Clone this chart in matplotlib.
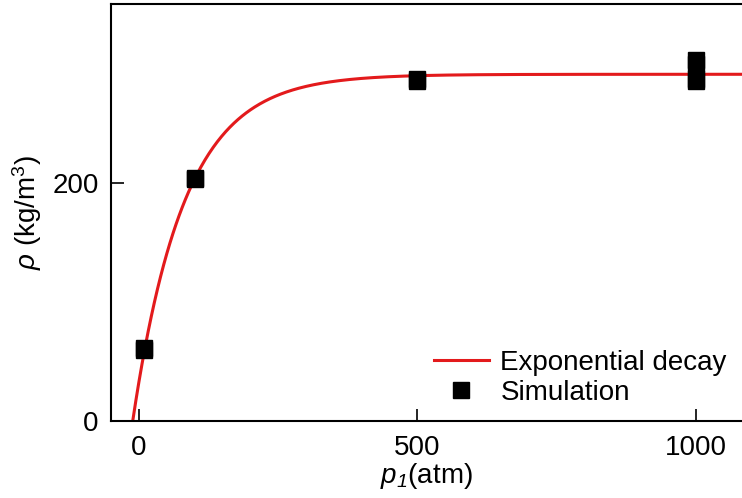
import numpy as np
import matplotlib
matplotlib.use("Agg")
import matplotlib.pyplot as plt

plt.rcParams['font.family'] = ['Liberation Sans', 'DejaVu Sans']
plt.rcParams['mathtext.fontset'] = 'custom'
plt.rcParams['mathtext.rm'] = 'Liberation Sans'
plt.rcParams['mathtext.it'] = 'Liberation Sans:italic'
# mathtext forces digits upright in \mathit, so use the bf slot for an italic "1"
plt.rcParams['mathtext.bf'] = 'Liberation Sans:italic'

# simulation points (pressure in atm, density in kg/m^3)
p_sim = [10, 10, 100, 100, 500, 500, 1000, 1000, 1000, 1000]
rho_sim = [60, 61, 203, 204, 285, 287, 300, 303, 285, 287]

# exponential decay fit: rho = A - B*exp(-p/t)
fit_A = 291.0
fit_B = 258.5
fit_t = 92.8
p_fit = np.linspace(-11, 1100, 600)
rho_fit = fit_A - fit_B * np.exp(-p_fit / fit_t)

fig = plt.figure(figsize=(7.42, 4.98), dpi=100)
ax = fig.add_axes([0.1496, 0.1546, 0.8504, 0.8374])

ax.plot(p_fit, rho_fit, color='#e31a1c', lw=2.2, label='Exponential decay', zorder=2)
ax.plot(p_sim, rho_sim, 's', color='black', ms=11, label='Simulation', zorder=3)

ax.set_xlim(-50, 1083)
ax.set_ylim(0, 350)
ax.set_xticks([0, 500, 1000])
ax.set_yticks([0, 200])
ax.tick_params(direction='in', length=9, width=1.2, labelsize=20)
ax.tick_params(axis='x', pad=10)
ax.tick_params(axis='y', pad=9)
for s in ['left', 'bottom', 'top']:
    ax.spines[s].set_linewidth(1.5)
ax.spines['right'].set_visible(False)

ax.set_xlabel(r'$\mathit{p}_{\mathbf{1}}$(atm)', fontsize=20, labelpad=0)
ax.set_ylabel(r'$\mathit{\rho}$ (kg/m$^3$)', fontsize=20, labelpad=6)

ax.legend(loc='lower right', bbox_to_anchor=(1.0, 0.0), frameon=False,
          fontsize=20, handlelength=2.0, handletextpad=0.4,
          borderaxespad=0.15, labelspacing=0.15)

fig.savefig('out.png', dpi=100)
